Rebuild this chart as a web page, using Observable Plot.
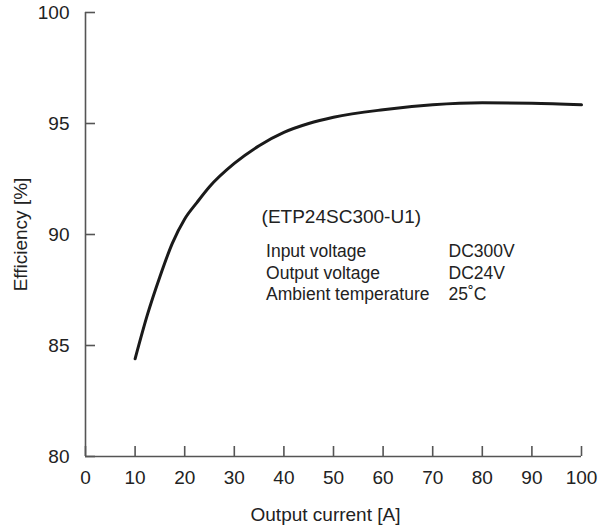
<!DOCTYPE html>
<html><head><meta charset="utf-8">
<script src="https://cdn.jsdelivr.net/npm/d3@7"></script>
<script src="https://cdn.jsdelivr.net/npm/@observablehq/plot@0.6"></script>
<style>body{margin:0;background:#fff}</style>
</head><body><div id="chart"></div>
<script>
const current = [10, 12.5, 15, 17.5, 20, 22.5, 25, 30, 35, 40, 45, 50, 60, 70, 80, 90, 100];
const efficiency = [84.4, 86.4, 88.1, 89.6, 90.7, 91.45, 92.15, 93.2, 94.0, 94.6, 95.0, 95.28, 95.62, 95.84, 95.93, 95.91, 95.84];
const xTicks = [0, 10, 20, 30, 40, 50, 60, 70, 80, 90, 100];
const yTicks = [80, 85, 90, 95, 100];
const modelName = "(ETP24SC300-U1)";
const specLabels = ["Input voltage", "Output voltage", "Ambient temperature"];
const specValues = ["DC300V", "DC24V", "25˚C"];
const xLabel = "Output current [A]";
const yLabel = "Efficiency [%]";

const data = current.map((c, i) => ({current: c, efficiency: efficiency[i]}));
const axisColor = "#555";
const textColor = "#222";

const chart = Plot.plot({
  width: 600, height: 529,
  marginLeft: 85, marginRight: 19, marginTop: 12, marginBottom: 73,
  style: {fontFamily: "'Liberation Sans', Arial, sans-serif", fontSize: "19px", color: textColor, background: "#fff"},
  x: {domain: [0, 100]},
  y: {domain: [80, 100]},
  marks: [
    Plot.ruleX([0], {stroke: axisColor, strokeWidth: 1.6}),
    Plot.ruleY([80], {stroke: axisColor, strokeWidth: 1.6}),
    Plot.axisY({ticks: yTicks, tickSize: 0, tickPadding: 16, label: null, fontSize: 19}),
    Plot.axisY({ticks: yTicks, tickSize: -10, tickFormat: () => "", label: null, stroke: axisColor, strokeWidth: 1.6}),
    Plot.axisX({ticks: xTicks, tickSize: 0, tickPadding: 14, label: null, fontSize: 19}),
    Plot.axisX({ticks: xTicks, tickSize: -10, tickFormat: () => "", label: null, stroke: axisColor, strokeWidth: 1.6}),
    Plot.text([yLabel], {frameAnchor: "left", rotate: -90, textAnchor: "middle", lineAnchor: "middle", dx: -65, fontSize: 19, fill: textColor}),
    Plot.text([xLabel], {frameAnchor: "bottom", textAnchor: "middle", lineAnchor: "middle", dx: -8, dy: 58, fontSize: 19, fill: textColor}),
    Plot.line(data, {x: "current", y: "efficiency", stroke: "#1a1a1a", strokeWidth: 3, curve: "monotone-x"}),
    Plot.text([modelName], {x: 35.5, y: 90.5, textAnchor: "start", lineAnchor: "bottom", fontSize: 19, fill: textColor}),
    Plot.text([specLabels.join("\n")], {x: 36.4, y: 89.68, textAnchor: "start", lineAnchor: "top", lineHeight: 1.24, fontSize: 17.5, fill: textColor}),
    Plot.text([specValues.join("\n")], {x: 73.2, y: 89.68, textAnchor: "start", lineAnchor: "top", lineHeight: 1.24, fontSize: 17.5, fill: textColor})
  ]
});
document.getElementById("chart").appendChild(chart);
</script>
</body></html>
